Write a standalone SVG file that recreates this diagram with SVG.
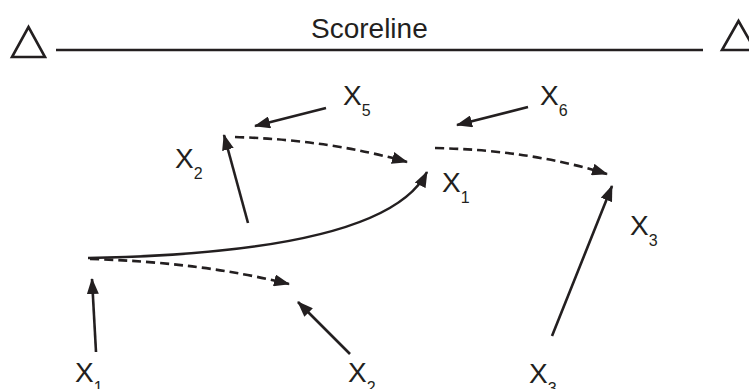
<svg xmlns="http://www.w3.org/2000/svg" width="749" height="389" viewBox="0 0 749 389">
<defs>
<marker id="ah" markerWidth="16" markerHeight="12" refX="15" refY="6" orient="auto" markerUnits="userSpaceOnUse" viewBox="0 0 16 12">
<path d="M0,0 L16,6 L0,12 z" fill="#231f20"/>
</marker>
<style>
.lbl{font-family:"Liberation Sans",Arial,sans-serif;font-size:28px;fill:#231f20}
.sub{font-size:16px}
.ln{stroke:#231f20;stroke-width:2.6;fill:none}
.dash{stroke:#231f20;stroke-width:2.6;fill:none;stroke-dasharray:9,5}
.tri{stroke:#231f20;stroke-width:2.6;fill:none;stroke-linejoin:miter}
</style>
</defs>
<rect width="749" height="389" fill="#fff"/>
<g id="scoreline">
<polygon class="tri" points="12,57 45,57 28.5,27"/>
<line class="ln" x1="56" y1="50" x2="703" y2="50"/>
<polygon class="tri" points="722,50 755,50 738.5,21"/>
<text x="311" y="38" style="font-family:'Liberation Sans',Arial,sans-serif;font-size:28px;fill:#231f20">Scoreline</text>
</g>
<g id="n-x5"><text class="lbl" x="343" y="105">X<tspan class="sub" dy="11">5</tspan></text></g>
<g id="n-x6"><text class="lbl" x="540" y="105">X<tspan class="sub" dy="11">6</tspan></text></g>
<g id="n-x2top"><text class="lbl" x="175" y="168">X<tspan class="sub" dy="11">2</tspan></text></g>
<g id="n-x1mid"><text class="lbl" x="442" y="192">X<tspan class="sub" dy="11">1</tspan></text></g>
<g id="n-x3right"><text class="lbl" x="630" y="235">X<tspan class="sub" dy="11">3</tspan></text></g>
<g id="n-x1bot"><text class="lbl" x="75" y="382">X<tspan class="sub" dy="11">1</tspan></text></g>
<g id="n-x2bot"><text class="lbl" x="348" y="382">X<tspan class="sub" dy="11">2</tspan></text></g>
<g id="n-x3bot"><text class="lbl" x="529" y="383">X<tspan class="sub" dy="11">3</tspan></text></g>
<g id="connectors">
<line class="ln" x1="326" y1="108" x2="255" y2="126" marker-end="url(#ah)"/>
<line class="ln" x1="528" y1="107" x2="457" y2="125" marker-end="url(#ah)"/>
<line class="ln" x1="248" y1="223" x2="224" y2="135" marker-end="url(#ah)"/>
<path class="dash" d="M235,137 Q330,140 407,162" marker-end="url(#ah)"/>
<path class="ln" d="M88,258 C250,255 395,235 427,172" marker-end="url(#ah)"/>
<path class="dash" d="M435,148 Q530,150 607,174" marker-end="url(#ah)"/>
<line class="ln" x1="552" y1="336" x2="612" y2="186" marker-end="url(#ah)"/>
<path class="dash" d="M90,259 Q200,262 289,284" marker-end="url(#ah)"/>
<line class="ln" x1="96" y1="352" x2="92" y2="279" marker-end="url(#ah)"/>
<line class="ln" x1="350" y1="354" x2="298" y2="302" marker-end="url(#ah)"/>
</g>
</svg>
